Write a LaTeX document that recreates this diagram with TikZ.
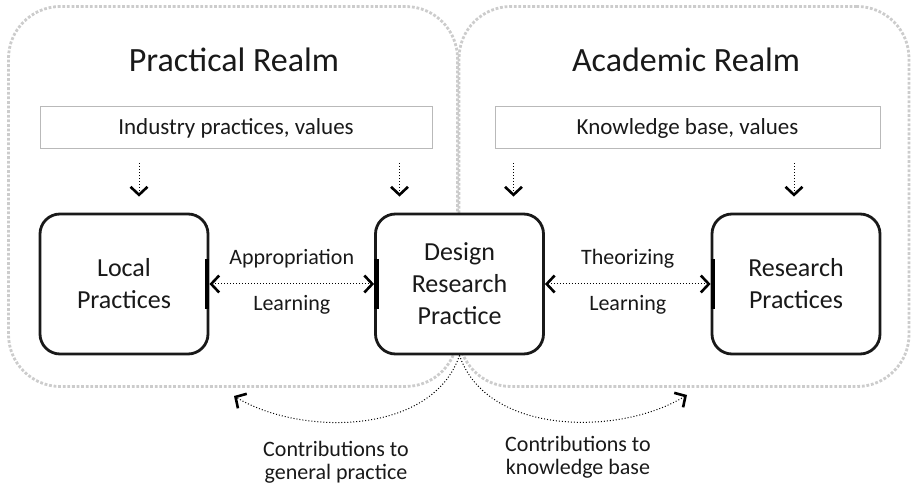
\documentclass[tikz,border=0pt]{standalone}
\usepackage{fontspec}
\setmainfont{Carlito}
\usepackage{xcolor}
\usetikzlibrary{arrows.meta}

\begin{document}
\begin{tikzpicture}[x=1pt, y=-1pt,
    realm/.style={draw=gray!40, line width=2.8pt, dash pattern=on 2.8pt off 1.8pt,
        rounded corners=52pt},
    realmtitle/.style={text=black!90, font=\fontsize{34}{40}\selectfont},
    valuebox/.style={draw=gray!55, line width=1pt, text=black!90,
        minimum height=42pt, font=\fontsize{23}{28}\selectfont},
    practice/.style={draw=black!90, fill=white, line width=2.8pt, rounded corners=20pt,
        minimum width=168pt, minimum height=140pt, align=center, text=black!90,
        font=\fontsize{26}{32}\selectfont},
    lbl/.style={text=black!90, align=center, font=\fontsize{22}{23}\selectfont},
    barb/.tip={Straight Barb[length=8pt, width=17pt, line width=2.6pt]},
    flow/.style={black, dotted, line width=1pt, -barb},
    bothflow/.style={flow, barb-barb}
]
    \useasboundingbox (0,0) rectangle (914,486);

    % the two realms
    \node[realm, minimum width=449pt, minimum height=380pt] (practical) at (233,196.5) {};
    \node[realm, minimum width=450pt, minimum height=380pt] (academic) at (684,196.5) {};
    \node[realmtitle] (ptitle) at (234,60) {Practical Realm};
    \node[realmtitle] (atitle) at (686,60) {Academic Realm};

    \node[valuebox, minimum width=392pt] (industry) at (236,128) {Industry practices, values};
    \node[valuebox, minimum width=385pt] (knowledge) at (687.5,128) {Knowledge base, values};

    % practices
    \node[practice] (lp) at (124,284) {Local\\Practices};
    \node[practice] (drp) at (459.5,284) {Design\\Research\\Practice};
    \node[practice] (rp) at (796,284) {Research\\Practices};

    \draw[line width=4.4pt] ([xshift=-2.2pt, yshift=-25pt]lp.east) -- ([xshift=-2.2pt, yshift=25pt]lp.east);
    \draw[line width=4.4pt] ([xshift=2.2pt, yshift=-25pt]drp.west) -- ([xshift=2.2pt, yshift=25pt]drp.west);
    \draw[line width=4.4pt] ([xshift=2.2pt, yshift=-25pt]rp.west) -- ([xshift=2.2pt, yshift=25pt]rp.west);

    \foreach \src/\dst/\dx in {industry/lp/15, industry/drp/-60, knowledge/drp/54, knowledge/rp/-2}
        \draw[flow] ([xshift=\dx pt, yshift=-14pt]\src.south -| \dst.north)
            -- ([xshift=\dx pt, yshift=16pt]\dst.north);

    \draw[bothflow] (lp.east) -- (drp.west)
        node[lbl, midway, above=12pt] (approp) {Appropriation}
        node[lbl, midway, below=8pt] (learn1) {Learning};
    \draw[bothflow] (drp.east) -- (rp.west)
        node[lbl, midway, above=12pt] (theor) {Theorizing}
        node[lbl, midway, below=8pt] (learn2) {Learning};

    % contributions
    \coordinate (gp) at (234,396);
    \coordinate (kb) at (687,395);
    \draw[flow] (drp.south) .. controls (432,436) and (300,436) .. (gp);
    \draw[flow] (drp.south) .. controls (487,436) and (620,436) .. (kb);
    \node[lbl] (gpl) at (336,462) {Contributions to\\general practice};
    \node[lbl] (kbl) at (578,457) {Contributions to\\knowledge base};
\end{tikzpicture}
\end{document}
